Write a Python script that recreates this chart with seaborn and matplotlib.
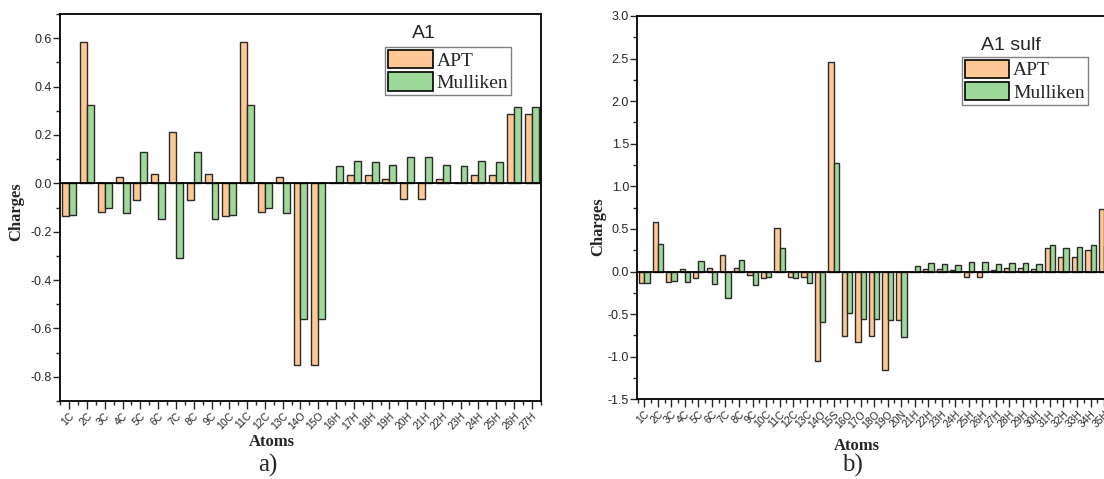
import numpy as np
import pandas as pd
import matplotlib
matplotlib.use("Agg")
import matplotlib.pyplot as plt
import seaborn as sns
from matplotlib.patches import Patch
from matplotlib.ticker import MultipleLocator

# ---------------- data ----------------
atoms_a = ['1C', '2C', '3C', '4C', '5C', '6C', '7C', '8C', '9C', '10C', '11C', '12C', '13C',
           '14O', '15O', '16H', '17H', '18H', '19H', '20H', '21H', '22H', '23H', '24H',
           '25H', '26H', '27H']
apt_a = [-0.137, 0.585, -0.120, 0.026, -0.070, 0.039, 0.211, -0.070, 0.039, -0.137,
         0.585, -0.120, 0.026, -0.750, -0.750, 0.000, 0.033, 0.033, 0.018, -0.063,
         -0.063, 0.018, 0.000, 0.033, 0.033, 0.287, 0.287]
mull_a = [-0.132, 0.323, -0.100, -0.121, 0.130, -0.146, -0.309, 0.130, -0.146, -0.132,
          0.323, -0.100, -0.121, -0.561, -0.561, 0.072, 0.094, 0.087, 0.077, 0.108,
          0.108, 0.077, 0.072, 0.094, 0.087, 0.316, 0.316]

atoms_b = ['1C', '2C', '3C', '4C', '5C', '6C', '7C', '8C', '9C', '10C', '11C', '12C', '13C',
           '14O', '15S', '16O', '17O', '18O', '19O', '20N', '21H', '22H', '23H', '24H',
           '25H', '26H', '27H', '28H', '29H', '30H', '31H', '32H', '33H', '34H', '35H']
apt_b = [-0.137, 0.587, -0.125, 0.027, -0.075, 0.040, 0.190, 0.047, -0.043, -0.075,
         0.513, -0.067, -0.063, -1.050, 2.460, -0.753, -0.830, -0.753, -1.160, -0.565,
         0.000, 0.030, 0.030, 0.016, -0.063, -0.063, 0.016, 0.047, 0.047, 0.030,
         0.280, 0.176, 0.176, 0.247, 0.730]
mull_b = [-0.133, 0.320, -0.106, -0.125, 0.120, -0.145, -0.306, 0.140, -0.160, -0.067,
          0.278, -0.078, -0.133, -0.590, 1.280, -0.486, -0.560, -0.560, -0.573, -0.770,
          0.070, 0.098, 0.090, 0.078, 0.110, 0.110, 0.086, 0.106, 0.106, 0.090,
          0.310, 0.280, 0.286, 0.310, 0.300]

methods = ['APT', 'Mulliken']
colors = ['#FDC896', '#9ED89B']

# ---------------- style ----------------
sns.set_style("ticks")
plt.rcParams['font.family'] = ['Liberation Sans', 'DejaVu Sans']
plt.rcParams['axes.unicode_minus'] = False
SERIF = ['Liberation Serif', 'DejaVu Serif']

fig = plt.figure(figsize=(11.04, 4.79), dpi=100)
ax1 = fig.add_axes([0.0543, 0.1628, 0.4357, 0.808])
ax2 = fig.add_axes([0.5773, 0.1664, 0.4291, 0.8002])


def panel(ax, atoms, apt, mull, ylim, major, minor, title, leg_anchor, title_xy,
          ylab_xy, xlab_xy):
    n = len(atoms)
    df = pd.DataFrame({
        'Atom': atoms + atoms,
        'Charge': apt + mull,
        'Method': ['APT'] * n + ['Mulliken'] * n,
    })
    sns.barplot(data=df, x='Atom', y='Charge', hue='Method', order=atoms,
                hue_order=methods, palette=colors, saturation=1, width=0.78,
                edgecolor='#2a2a2a', linewidth=1.0, errorbar=None, legend=False, ax=ax)
    ax.axhline(0, color='black', lw=1.3, zorder=3)
    ax.set_xlim(-0.52, n - 0.48)
    ax.set_ylim(*ylim)
    ax.yaxis.set_major_locator(MultipleLocator(major))
    ax.yaxis.set_minor_locator(MultipleLocator(minor))
    ax.set_xticks(np.arange(-0.5, n), minor=True)
    ax.tick_params(axis='x', which='major', length=6, width=1, labelsize=7.5, pad=1,
                   direction='out')
    ax.tick_params(axis='x', which='minor', length=3, width=1, direction='out')
    ax.tick_params(axis='y', which='major', length=5, width=1, labelsize=9, pad=1,
                   direction='out')
    ax.tick_params(axis='y', which='minor', length=3, width=1, direction='out')
    for lab in ax.get_xticklabels():
        lab.set_rotation(45)
        lab.set_ha('right')
        lab.set_rotation_mode('anchor')
    for s in ax.spines.values():
        s.set_visible(True)
        s.set_linewidth(1.3)
        s.set_color('black')
    ax.set_xlabel('Atoms', family=SERIF, fontweight='bold', fontsize=12)
    ax.set_ylabel('Charges', family=SERIF, fontweight='bold', fontsize=12)
    ax.yaxis.set_label_coords(*ylab_xy)
    ax.xaxis.set_label_coords(*xlab_xy)
    handles = [Patch(facecolor=c, edgecolor='black', linewidth=1.2) for c in colors]
    leg = ax.legend(handles, methods, loc='upper right', bbox_to_anchor=leg_anchor,
                    prop={'family': SERIF, 'size': 14}, frameon=True, fancybox=False,
                    edgecolor='#808080', framealpha=1, borderpad=0.15,
                    labelspacing=0.12, handlelength=2.3, handleheight=1.1,
                    handletextpad=0.2, borderaxespad=0)
    leg.get_frame().set_linewidth(1.0)
    ax.text(title_xy[0], title_xy[1], title, transform=ax.transAxes,
            ha='center', va='center', fontsize=14)


panel(ax1, atoms_a, apt_a, mull_a, (-0.9, 0.7), 0.2, 0.1, 'A1',
      (0.938, 0.915), (0.757, 0.950), (-0.075, 0.49), (0.44, -0.085))
panel(ax2, atoms_b, apt_b, mull_b, (-1.5, 3.0), 0.5, 0.25, 'A1 sulf',
      (0.951, 0.894), (0.789, 0.924), (-0.066, 0.45), (0.464, -0.10))

fig.text(0.243, 0.028, 'a)', family=SERIF, fontsize=18, ha='center', va='center')
fig.text(0.772, 0.028, 'b)', family=SERIF, fontsize=18, ha='center', va='center')

fig.savefig('out.png', dpi=100)
